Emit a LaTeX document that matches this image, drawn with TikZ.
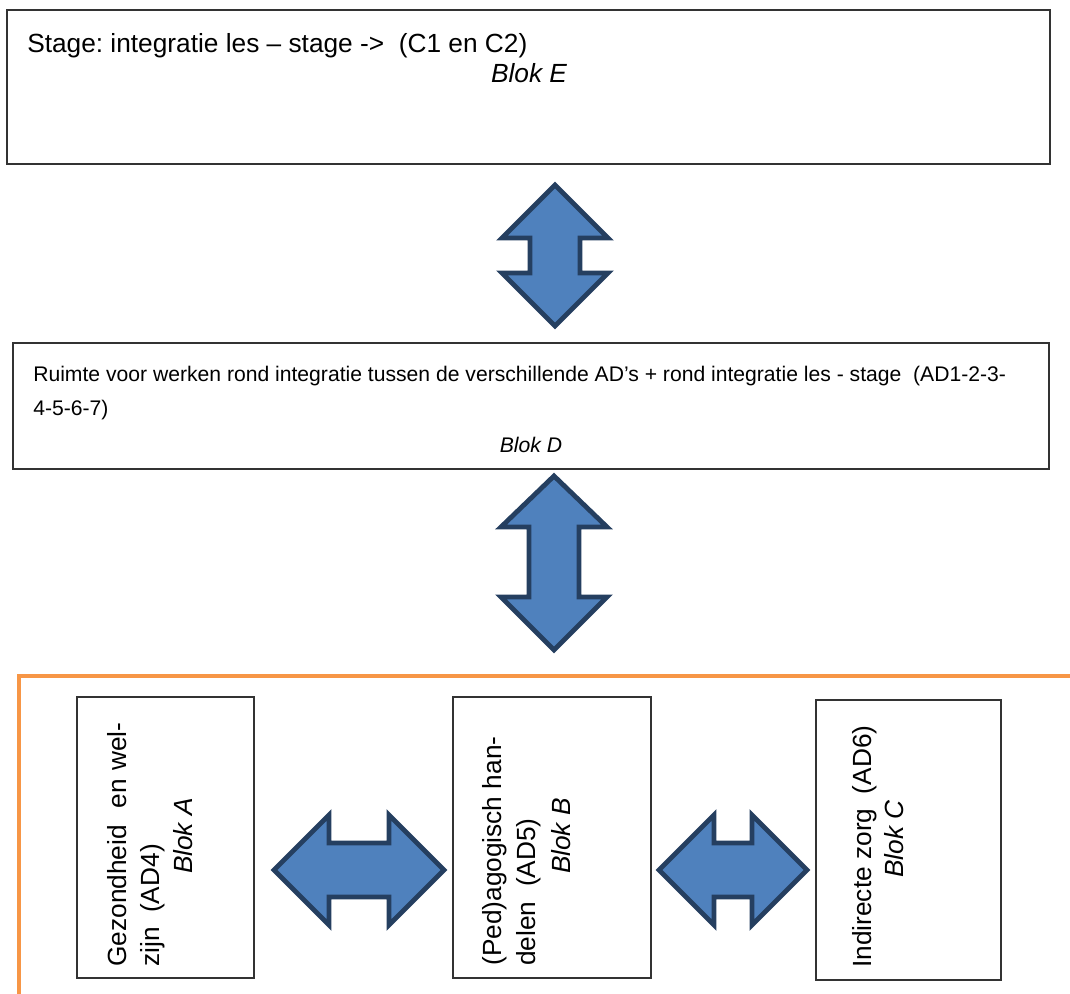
\documentclass[tikz,border=0pt]{standalone}
\usepackage{fontspec}
\setmainfont{Liberation Sans}
\usetikzlibrary{fit}
\frenchspacing
\definecolor{arrowfill}{HTML}{4F81BD}
\definecolor{arrowline}{HTML}{253F60}
\definecolor{framecol}{HTML}{F79646}
\definecolor{boxline}{HTML}{333333}
\tikzset{
  box/.style={draw=boxline, line width=1.4pt, inner sep=0pt},
  blockarrow/.style={draw=arrowline, fill=arrowfill, line width=3.6pt, line join=miter},
  bigtext/.style={font=\fontsize{19.7}{23}\selectfont, inner sep=0pt},
  bigital/.style={font=\fontsize{19.7}{23}\selectfont\itshape, inner sep=0pt},
  smalltext/.style={font=\fontsize{15.85}{18}\selectfont, inner sep=0pt},
  smallital/.style={font=\fontsize{15.85}{18}\selectfont\itshape, inner sep=0pt},
  frameline/.style={draw=framecol, line width=3.6pt, line join=miter},
}
\begin{document}
\begin{tikzpicture}[x=0.75pt, y=-0.75pt]
\useasboundingbox (0,0) rectangle (1070,994);

% Blok E
\node[box, fit={(7,10)(1050,164)}] (E) {};
\node[bigtext, anchor=base west] (Etext) at (27,53) {Stage: integratie les – stage ->\ \ (C1 en C2)};
\node[bigital, anchor=base] (Elabel) at (529,83) {Blok E};

% Blok D
\node[box, fit={(13,343)(1049,469)}] (D) {};
\node[smalltext, anchor=base west] (Dtext1) at (33,382) {Ruimte voor werken rond integratie tussen de verschillende AD’s + rond integratie les - stage\ \ (AD1-2-3-};
\node[smalltext, anchor=base west] (Dtext2) at (33,416) {4-5-6-7)};
\node[smallital, anchor=base] (Dlabel) at (531,452) {Blok D};

% vertical block arrows
\draw[blockarrow] (555,185) -- (608,238) -- (580,238) -- (580,273) -- (608,273) -- (555,326)
  -- (502,273) -- (530,273) -- (530,238) -- (502,238) -- cycle;
\draw[blockarrow] (554,476) -- (607,527) -- (579,527) -- (579,597) -- (607,597) -- (554,650)
  -- (501,597) -- (529,597) -- (529,527) -- (501,527) -- cycle;

% orange frame
\draw[frameline] (1072,676) -- (19,676) -- (19,996);

% Blok A
\node[box, fit={(77,697)(254,978)}] (A) {};
\node[bigtext, rotate=90, anchor=base west] (Atext1) at (126,967) {\makebox[183pt][s]{Gezondheid\ \ en wel-}};
\node[bigtext, rotate=90, anchor=base west] (Atext2) at (159,967) {zijn\ \ (AD4)};
\node[bigital, rotate=90, anchor=base] (Alabel) at (192,836) {Blok A};

% Blok B
\node[box, fit={(453,697)(651,978)}] (B) {};
\node[bigtext, rotate=90, anchor=base west] (Btext1) at (501,966) {(Ped)agogisch han-};
\node[bigtext, rotate=90, anchor=base west] (Btext2) at (535,966) {delen\ \ (AD5)};
\node[bigital, rotate=90, anchor=base] (Blabel) at (570,836) {Blok B};

% Blok C
\node[box, fit={(816,700)(1001,980)}] (C) {};
\node[bigtext, rotate=90, anchor=base west] (Ctext1) at (871,968) {Indirecte zorg\ \ (AD6)};
\node[bigital, rotate=90, anchor=base] (Clabel) at (903,839) {Blok C};

% horizontal block arrows
\draw[blockarrow] (274,870) -- (329,815) -- (329,843) -- (389,843) -- (389,815) -- (444,870)
  -- (389,925) -- (389,897) -- (329,897) -- (329,925) -- cycle;
\draw[blockarrow] (659,870) -- (714,815) -- (714,843) -- (752,843) -- (752,815) -- (807,870)
  -- (752,925) -- (752,897) -- (714,897) -- (714,925) -- cycle;
\end{tikzpicture}
\end{document}
